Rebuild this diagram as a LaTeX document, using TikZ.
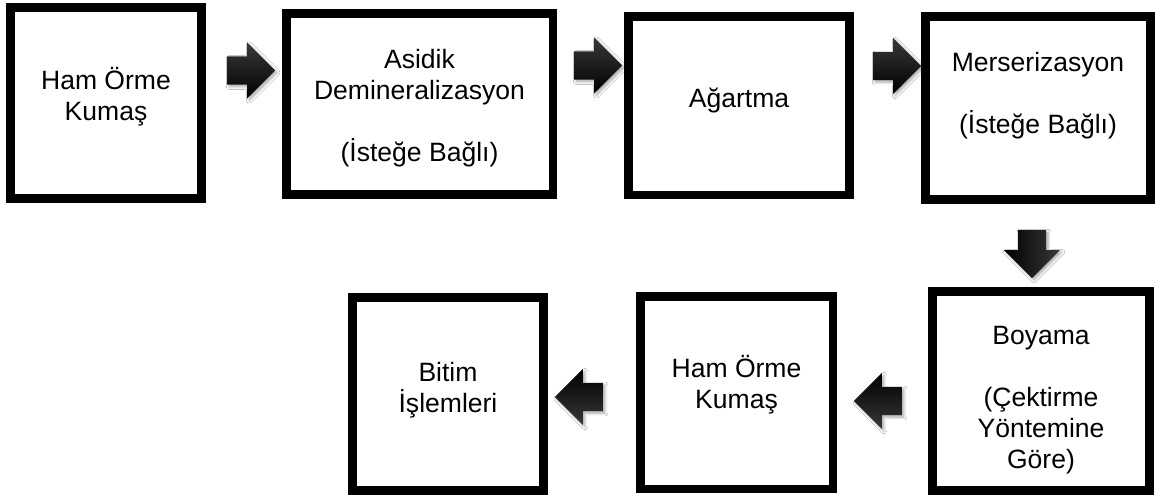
\documentclass[tikz,border=0pt]{standalone}
\usepackage{fontspec}
\setmainfont{Liberation Sans}
\usetikzlibrary{shapes.arrows,shadows.blur}
\tikzset{
  boxtext/.style={align=center, inner sep=0pt, font=\fontsize{19.9}{23.3}\selectfont},
  box/.style={draw=black, line width=6.4pt, fill=white, inner sep=0pt},
  blockarrow/.style={single arrow, single arrow head extend=9pt, single arrow tip angle=90,
    text height=9pt, text depth=9pt, text width=0pt,
    minimum height=36pt, minimum width=42pt, inner sep=0pt, draw=none,
    top color=black!78, middle color=black, bottom color=black,
    blur shadow={shadow xshift=1.5pt, shadow yshift=-1.5pt, shadow blur steps=6, shadow opacity=35}},
}
\begin{document}
\begin{tikzpicture}[x=0.75pt,y=-0.75pt]
\path[fill=white,use as bounding box] (0,0) rectangle (1156,496);
% boxes
\node[box, minimum width=143.6pt, minimum height=143.6pt] (b1) at (106,103) {};
\node[box, minimum width=199.9pt, minimum height=136.1pt] (b2) at (419.5,104) {};
\node[box, minimum width=166.1pt, minimum height=133.9pt] (b3) at (739,105.5) {};
\node[box, minimum width=169.1pt, minimum height=137.6pt] (b4) at (1038,108) {};
\node[box, minimum width=163.1pt, minimum height=149.6pt] (b5) at (1041,391) {};
\node[box, minimum width=144.4pt, minimum height=144.4pt] (b6) at (736.5,392.5) {};
\node[box, minimum width=143.6pt, minimum height=145.1pt] (b7) at (448,394) {};
% texts
\node[boxtext] (t1) at ([yshift=4.5pt]b1.center) {Ham Örme\\Kumaş};
\node[boxtext] (t2) at ([yshift=-3pt]b2.center) {Asidik\\Demineralizasyon\\[23.3pt](İsteğe Bağlı)};
\node[boxtext] (t3) at ([yshift=3.75pt]b3.center) {Ağartma};
\node[boxtext] (t4) at (b4.center) {Merserizasyon\\[23.3pt](İsteğe Bağlı)\\~};
\node[boxtext] (t5) at ([yshift=-7pt]b5.center) {Boyama\\[23.3pt](Çektirme\\Yöntemine\\Göre)};
\node[boxtext] (t6) at ([yshift=6pt]b6.center) {Ham Örme\\Kumaş};
\node[boxtext] (t7) at ([yshift=3pt]b7.center) {Bitim\\İşlemleri};
% block arrows
\node[blockarrow] (a1) at (244,70.5) {};
\node[blockarrow] (a2) at (591,65.5) {};
\node[blockarrow] (a3) at (890,66) {};
\node[blockarrow, text width=18pt, text height=0pt, text depth=0pt, shape border rotate=270, shading angle=270] (a4) at (1032,247) {};
\node[blockarrow, shape border rotate=180, shading angle=180] (a5) at (885,401) {};
\node[blockarrow, shape border rotate=180, shading angle=180] (a6) at (586,397) {};
\end{tikzpicture}
\end{document}
